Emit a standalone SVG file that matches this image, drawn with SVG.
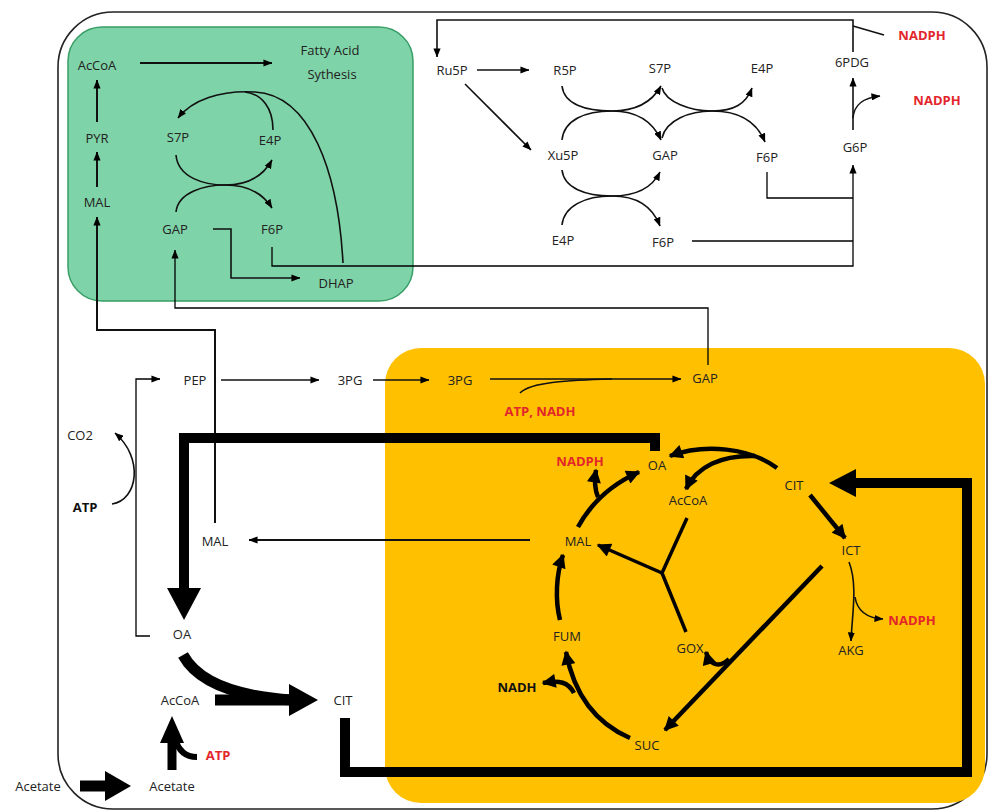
<svg xmlns="http://www.w3.org/2000/svg" width="988" height="811" viewBox="0 0 988 811">
<style>
.t{font-family:"Open Sans","Liberation Sans",sans-serif;font-size:13px;fill:#222;text-anchor:middle}
.r{font-weight:bold;fill:#e3262b}
.b{font-weight:bold;fill:#111}
.l{fill:none;stroke:#111;stroke-width:1.6}
.l2{fill:none;stroke:#111;stroke-width:2}
.th{fill:none;stroke:#000;stroke-width:1.3}
.k{fill:none;stroke:#000;stroke-width:4.5}
.bg{fill:none;stroke:#000;stroke-width:10}
.f{fill:#000}
</style>
<defs>
<marker id="ah" viewBox="0 0 10 8" refX="9.5" refY="4" markerWidth="9" markerHeight="7.2" markerUnits="userSpaceOnUse" orient="auto"><path d="M0,0 L10,4 L0,8 z" fill="#000"/></marker>
<marker id="ak" viewBox="0 0 10 10" refX="9" refY="5" markerWidth="15" markerHeight="14" markerUnits="userSpaceOnUse" orient="auto"><path d="M0,0 L10,5 L0,10 z" fill="#000"/></marker>
</defs>
<rect width="988" height="811" fill="#fff"/>
<rect id="cell" x="58" y="12" width="929" height="797" rx="55" fill="none" stroke="#222" stroke-width="1.6"/>
<rect id="green-region" x="68" y="27" width="345" height="274" rx="34" fill="#7fd3a8" stroke="#3a9e66" stroke-width="1.5"/>
<rect id="orange-region" x="385" y="348" width="600" height="455" rx="36" fill="#ffc000"/>

<g id="connectors">
<!-- green -->
<path class="l2" d="M140,63 H272" marker-end="url(#ah)"/>
<path class="l2" d="M97,122 V80" marker-end="url(#ah)"/>
<path class="l2" d="M97,187 V152" marker-end="url(#ah)"/>
<path class="l2" d="M215,523 V330 H97 V217" marker-end="url(#ah)"/>
<path class="l" d="M176,155 C178,178 205,185 225,185 C245,185 262,192 272,208" marker-end="url(#ah)"/>
<path class="l" d="M176,212 C178,192 205,185 225,185 C245,185 262,178 272,160" marker-end="url(#ah)"/>
<path class="l" d="M343,263 C338,170 310,95 255,92 C220,90 192,100 178,118" marker-end="url(#ah)"/>
<path class="l" d="M273,130 C273,108 262,94 245,92"/>
<path class="l" d="M213,229 H231 V278 H300" marker-end="url(#ah)"/>
<path class="th" d="M272,247 V266 H853 V165" marker-end="url(#ah)"/>
<path class="th" d="M708,365 V308 H175 V250" marker-end="url(#ah)"/>
<!-- PPP -->
<path class="th" d="M767,172 V198 H853"/>
<path class="th" d="M692,241 H853"/>
<path class="l" d="M853,130 V78" marker-end="url(#ah)"/>
<path class="l" d="M853,118 C854,105 862,98 880,96" marker-end="url(#ah)"/>
<path class="l" d="M853,52 V20 H437 V57" marker-end="url(#ah)"/>
<path class="l" d="M853,26 L884,35"/>
<path class="l" d="M477,70 H529" marker-end="url(#ah)"/>
<path class="l" d="M465,84 L531,150" marker-end="url(#ah)"/>
<path class="l" d="M562,86 C564,104 585,111 612,111 C636,111 652,120 661,140" marker-end="url(#ah)"/>
<path class="l" d="M562,140 C564,120 585,111 612,111 C636,111 652,102 661,86" marker-end="url(#ah)"/>
<path class="l" d="M662,88 C666,102 690,111 712,111 C736,111 756,120 765,142" marker-end="url(#ah)"/>
<path class="l" d="M662,138 C666,120 690,111 712,111 C734,111 746,104 752,88" marker-end="url(#ah)"/>
<path class="l" d="M562,170 C564,188 585,196 612,196 C636,196 652,205 660,226" marker-end="url(#ah)"/>
<path class="l" d="M562,225 C564,206 585,196 612,196 C636,196 652,188 660,172" marker-end="url(#ah)"/>
<!-- middle -->
<path class="l" d="M221,380 H319" marker-end="url(#ah)"/>
<path class="l" d="M373,380 H429" marker-end="url(#ah)"/>
<path class="l" d="M490,379 H681" marker-end="url(#ah)"/>
<path class="l" d="M520,393 C530,382 570,380 612,379"/>
<path class="l" d="M112,504 C138,500 144,458 115,433" marker-end="url(#ah)"/>
<path class="th" d="M150,636 H136 V379 H160" marker-end="url(#ah)"/>
<path class="l2" d="M530,540 H249" marker-end="url(#ah)"/>
<!-- thick -->
<path class="bg" d="M655,451 V438 H184 V590"/>
<polygon class="f" points="167,588 201,588 184,620"/>
<path fill="none" stroke="#000" stroke-width="11" d="M183,655 C200,686 245,697 292,700"/>
<path fill="none" stroke="#000" stroke-width="11" d="M215,700 H292"/>
<polygon class="f" points="289,684 318,700 289,716"/>
<path fill="none" stroke="#000" stroke-width="11" d="M80,786 H108"/>
<polygon class="f" points="105,771 131,786 105,801"/>
<path fill="none" stroke="#000" stroke-width="9" d="M172,770 V740"/>
<polygon class="f" points="160,743 172,716 184,743"/>
<path fill="none" stroke="#000" stroke-width="6" d="M197,757 C185,757 178,750 175,738"/>
<path class="bg" d="M345,718 V772 H967 V483 H853"/>
<polygon class="f" points="856,469 829,483 856,497"/>
<!-- TCA -->
<path class="k" d="M777,468 C750,448 705,443 670,456" marker-end="url(#ak)"/>
<path class="k" d="M755,456 C722,455 697,466 686,489" marker-end="url(#ak)"/>
<path class="k" d="M578,527 C590,505 610,485 639,472" marker-end="url(#ak)"/>
<path class="k" d="M598,497 C595,490 594,482 596,470" marker-end="url(#ak)"/>
<path fill="none" stroke="#000" stroke-width="3.5" d="M687,518 L662,573 L686,632"/>
<path fill="none" stroke="#000" stroke-width="3.5" d="M662,573 L598,545" marker-end="url(#ak)"/>
<path class="k" d="M560,620 C555,600 556,575 563,555" marker-end="url(#ak)"/>
<path class="k" d="M630,738 C600,725 575,700 566,652" marker-end="url(#ak)"/>
<path class="k" d="M574,693 C568,682 560,680 543,683" marker-end="url(#ak)"/>
<path class="k" d="M822,566 L665,730" marker-end="url(#ak)"/>
<path class="k" d="M729,659 C720,668 710,666 706,652" marker-end="url(#ak)"/>
<path class="k" d="M810,495 L845,538" marker-end="url(#ak)"/>
<path class="l" d="M849,562 C858,585 852,615 851,641" marker-end="url(#ah)"/>
<path class="l" d="M855,597 C857,610 866,618 883,619" marker-end="url(#ah)"/>
</g>

<g id="n-accoa-fa"><text class="t" x="97" y="70">AcCoA</text></g>
<g id="n-fas"><text class="t" x="330" y="55">Fatty Acid</text><text class="t" x="332" y="79">Sythesis</text></g>
<g id="n-pyr"><text class="t" x="97" y="143">PYR</text></g>
<g id="n-mal-g"><text class="t" x="97" y="207">MAL</text></g>
<g id="n-s7p-g"><text class="t" x="178" y="142">S7P</text></g>
<g id="n-e4p-g"><text class="t" x="270" y="145">E4P</text></g>
<g id="n-gap-g"><text class="t" x="175" y="234">GAP</text></g>
<g id="n-f6p-g"><text class="t" x="272" y="234">F6P</text></g>
<g id="n-dhap"><text class="t" x="336" y="288">DHAP</text></g>

<g id="n-ru5p"><text class="t" x="452" y="75">Ru5P</text></g>
<g id="n-r5p"><text class="t" x="565" y="75">R5P</text></g>
<g id="n-s7p"><text class="t" x="660" y="73">S7P</text></g>
<g id="n-e4p"><text class="t" x="762" y="73">E4P</text></g>
<g id="n-6pdg"><text class="t" x="852" y="67">6PDG</text></g>
<g id="n-xu5p"><text class="t" x="563" y="160">Xu5P</text></g>
<g id="n-gap"><text class="t" x="665" y="160">GAP</text></g>
<g id="n-f6p"><text class="t" x="767" y="162">F6P</text></g>
<g id="n-g6p"><text class="t" x="855" y="152">G6P</text></g>
<g id="n-e4p2"><text class="t" x="563" y="245">E4P</text></g>
<g id="n-f6p2"><text class="t" x="663" y="247">F6P</text></g>
<g id="n-nadph1"><text class="t r" x="922" y="40">NADPH</text></g>
<g id="n-nadph2"><text class="t r" x="937" y="105">NADPH</text></g>

<g id="n-pep"><text class="t" x="195" y="385">PEP</text></g>
<g id="n-3pg"><text class="t" x="350" y="385">3PG</text></g>
<g id="n-3pg2"><text class="t" x="460" y="385">3PG</text></g>
<g id="n-gap-o"><text class="t" x="705" y="383">GAP</text></g>
<g id="n-atpnadh"><text class="t r" x="540" y="416">ATP, NADH</text></g>
<g id="n-co2"><text class="t" x="80" y="440">CO2</text></g>
<g id="n-atp"><text class="t b" x="85" y="512">ATP</text></g>
<g id="n-mal"><text class="t" x="215" y="546">MAL</text></g>
<g id="n-oa"><text class="t" x="182" y="639">OA</text></g>
<g id="n-accoa"><text class="t" x="180" y="705">AcCoA</text></g>
<g id="n-cit"><text class="t" x="343" y="705">CIT</text></g>
<g id="n-acetate-out"><text class="t" x="38" y="791">Acetate</text></g>
<g id="n-acetate"><text class="t" x="172" y="791">Acetate</text></g>
<g id="n-atp-red"><text class="t r" x="218" y="760">ATP</text></g>

<g id="n-nadph-o"><text class="t r" x="580" y="466">NADPH</text></g>
<g id="n-oa-o"><text class="t" x="657" y="470">OA</text></g>
<g id="n-cit-o"><text class="t" x="794" y="490">CIT</text></g>
<g id="n-accoa-o"><text class="t" x="688" y="505">AcCoA</text></g>
<g id="n-mal-o"><text class="t" x="578" y="546">MAL</text></g>
<g id="n-ict"><text class="t" x="851" y="555">ICT</text></g>
<g id="n-fum"><text class="t" x="567" y="641">FUM</text></g>
<g id="n-gox"><text class="t" x="690" y="653">GOX</text></g>
<g id="n-akg"><text class="t" x="851" y="655">AKG</text></g>
<g id="n-nadph-ict"><text class="t r" x="912" y="625">NADPH</text></g>
<g id="n-nadh"><text class="t b" x="517" y="692">NADH</text></g>
<g id="n-suc"><text class="t" x="647" y="750">SUC</text></g>
</svg>
